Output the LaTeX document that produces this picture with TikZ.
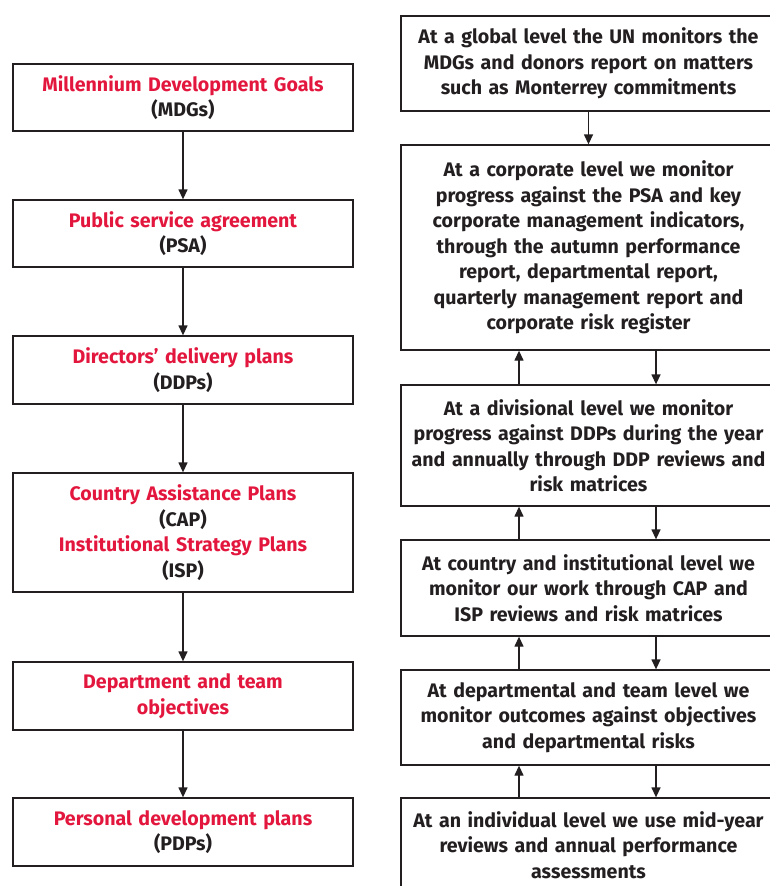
\documentclass[tikz,border=0pt]{standalone}
\usepackage{fontspec}
\setmainfont{Fira Sans}
\usetikzlibrary{arrows.meta}
\definecolor{planred}{HTML}{E3173E}
\definecolor{inkgray}{HTML}{231F20}

\begin{document}
\begin{tikzpicture}[x=1pt,y=-1pt,
  plan/.style={shape=rectangle,draw=inkgray,line width=1.3pt,minimum width=340pt,text width=334pt,align=center,inner sep=0pt,font=\fontsize{19.6}{25.5}\selectfont\bfseries,text=inkgray},
  check/.style={plan,minimum width=375pt,text width=369pt},
  red/.style={text=planred},
  flow/.style={draw=inkgray,line width=1.3pt,-{Triangle[width=9pt,length=10pt]}}]
\def\lx{183};
\def\rx{588.5};

\useasboundingbox (0,0) rectangle (770,886);
\clip (0,0) rectangle (770,886);

% planning side
\node[plan,minimum height=67pt] (MDG) at (\lx,97.5) {\textcolor{planred}{Millennium Development Goals}\\(MDGs)};
\node[plan,minimum height=67pt] (PSA) at (\lx,233.5) {\textcolor{planred}{Public service agreement}\\(PSA)};
\node[plan,minimum height=68pt] (DDP) at (\lx,370) {\textcolor{planred}{Directors’ delivery plans}\\(DDPs)};
\node[plan,minimum height=119pt] (CAP) at (\lx,532.5) {\textcolor{planred}{Country Assistance Plans}\\(CAP)\\\textcolor{planred}{Institutional Strategy Plans}\\(ISP)};
\node[plan,minimum height=68pt,red] (TEAM) at (\lx,696) {Department and team\\objectives};
\node[plan,minimum height=68pt] (PDP) at (\lx,832) {\textcolor{planred}{Personal development plans}\\(PDPs)};

\draw[flow] (MDG.south) -- (PSA.north);
\draw[flow] (PSA.south) -- (DDP.north);
\draw[flow] (DDP.south) -- (CAP.north);
\draw[flow] (CAP.south) -- (TEAM.north);
\draw[flow] (TEAM.south) -- (PDP.north);

% monitoring side
\node[check,minimum height=95pt] (GLOBAL) at (\rx,63.5) {At a global level the UN monitors the\\MDGs and donors report on matters\\such as Monterrey commitments};
\node[check,minimum height=205pt] (CORP) at (\rx,247.5) {At a corporate level we monitor\\progress against the PSA and key\\corporate management indicators,\\through the autumn performance\\report, departmental report,\\quarterly management report and\\corporate risk register};
\node[check,minimum height=121pt] (DIV) at (\rx,445.5) {At a divisional level we monitor\\progress against DDPs during the year\\and annually through DDP reviews and\\risk matrices};
\node[check,minimum height=96pt] (CTRY) at (\rx,588) {At country and institutional level we\\monitor our work through CAP and\\ISP reviews and risk matrices};
\node[check,minimum height=95pt] (DEPT) at (\rx,717.5) {At departmental and team level we\\monitor outcomes against objectives\\and departmental risks};
\node[check,minimum height=94pt] (INDIV) at (\rx,845) {At an individual level we use mid-year\\reviews and annual performance\\assessments};

\coordinate (UP) at (519,0);
\coordinate (DN) at (656,0);

\draw[flow] (GLOBAL.south) -- (CORP.north);
\foreach \hi/\lo in {CORP/DIV,DIV/CTRY,CTRY/DEPT,DEPT/INDIV}{
  \draw[flow] (\lo.north -| UP) -- (\hi.south -| UP);
  \draw[flow] (\hi.south -| DN) -- (\lo.north -| DN);
}
\end{tikzpicture}
\end{document}
